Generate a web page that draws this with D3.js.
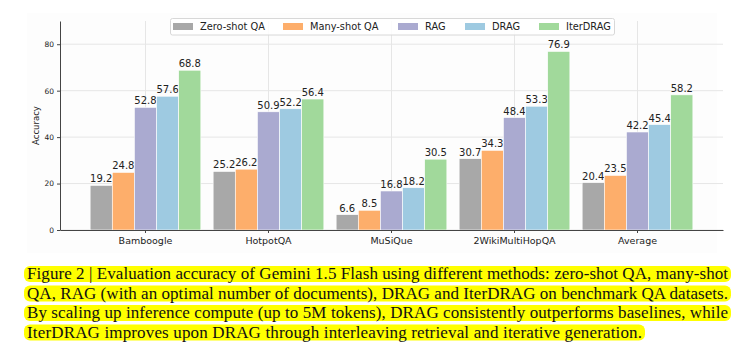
<!DOCTYPE html>
<html><head><meta charset="utf-8">
<script src="https://cdn.jsdelivr.net/npm/d3@7"></script>
<style>html,body{margin:0;padding:0;background:#fff;}svg{display:block;}</style>
</head><body>
<svg id="chart" width="754" height="363"></svg>
<script>
const categories = ["Bamboogle", "HotpotQA", "MuSiQue", "2WikiMultiHopQA", "Average"];
const seriesNames = ["Zero-shot QA", "Many-shot QA", "RAG", "DRAG", "IterDRAG"];
const zeroShot = [19.2, 25.2, 6.6, 30.7, 20.4];
const manyShot = [24.8, 26.2, 8.5, 34.3, 23.5];
const rag = [52.8, 50.9, 16.8, 48.4, 42.2];
const drag = [57.6, 52.2, 18.2, 53.3, 45.4];
const iterDrag = [68.8, 56.4, 30.5, 76.9, 58.2];
const yTicks = [0, 20, 40, 60, 80];
const colors = ["#a8a8a8", "#fdae6b", "#aaaad0", "#9ecae1", "#a1d99b"];
const captionLines = [
  "Figure 2 | Evaluation accuracy of Gemini 1.5 Flash using different methods: zero-shot QA, many-shot",
  "QA, RAG (with an optimal number of documents), DRAG and IterDRAG on benchmark QA datasets.",
  "By scaling up inference compute (up to 5M tokens), DRAG consistently outperforms baselines, while",
  "IterDRAG improves upon DRAG through interleaving retrieval and iterative generation."
];

const seriesValues = [zeroShot, manyShot, rag, drag, iterDrag];
const svg = d3.select("#chart");
const L = 60, R = 723, T = 21, B = 230;

svg.append("rect").attr("x", 27).attr("y", 13).attr("width", 690).attr("height", 240).attr("fill", "#fdfdfd");

const x = d3.scaleBand().domain(categories).range([L, R]).paddingInner(0.1).paddingOuter(0.245);
const xs = d3.scaleBand().domain(seriesNames).range([0, x.bandwidth()]);
const y = d3.scaleLinear().domain([0, 90]).range([B, T]);

const g = svg.append("g");
g.selectAll(".hg").data(yTicks).join("line")
  .attr("x1", L).attr("x2", R).attr("y1", d => y(d)).attr("y2", d => y(d))
  .attr("stroke", "#e6e6e6").attr("stroke-width", 1);
g.selectAll(".vg").data(categories).join("line")
  .attr("x1", d => x(d) + x.bandwidth() / 2).attr("x2", d => x(d) + x.bandwidth() / 2)
  .attr("y1", T).attr("y2", B).attr("stroke", "#e6e6e6").attr("stroke-width", 1);

seriesNames.forEach((s, si) => {
  const vals = seriesValues[si];
  const gs = svg.append("g");
  gs.selectAll("rect").data(categories).join("rect")
    .attr("x", (c) => x(c) + xs(s))
    .attr("y", (c, i) => y(vals[i]))
    .attr("width", xs.bandwidth())
    .attr("height", (c, i) => y(0) - y(vals[i]))
    .attr("fill", colors[si])
    .attr("stroke", "#ffffff").attr("stroke-width", 0.6);
  gs.selectAll("text").data(categories).join("text")
    .attr("x", (c) => x(c) + xs(s) + xs.bandwidth() / 2)
    .attr("y", (c, i) => y(vals[i]) - 3)
    .attr("text-anchor", "middle")
    .attr("font-family", "DejaVu Sans").attr("font-size", 10).attr("fill", "#222")
    .text((c, i) => vals[i].toFixed(1));
});

const xAxis = svg.append("g").attr("transform", `translate(0,${B})`)
  .call(d3.axisBottom(x).tickSize(3).tickSizeOuter(0));
xAxis.select(".domain").attr("stroke", "#444").attr("stroke-width", 1);
xAxis.selectAll(".tick line").attr("stroke", "#444");
xAxis.selectAll("text").attr("font-family", "DejaVu Sans").attr("font-size", 9.5).attr("fill", "#222").attr("dy", "0.85em");

const yAxis = svg.append("g").attr("transform", `translate(${L},0)`)
  .call(d3.axisLeft(y).tickValues(yTicks).tickSize(3).tickSizeOuter(0));
yAxis.select(".domain").attr("stroke", "#444").attr("stroke-width", 1);
yAxis.selectAll(".tick line").attr("stroke", "#444");
yAxis.selectAll("text").attr("font-family", "DejaVu Sans").attr("font-size", 7.5).attr("fill", "#222");

svg.append("text").attr("transform", `translate(39,${(T + B) / 2}) rotate(-90)`)
  .attr("text-anchor", "middle").attr("font-family", "DejaVu Sans").attr("font-size", 8.5).attr("fill", "#222")
  .text("Accuracy");

const leg = svg.append("g");
leg.append("rect").attr("x", 170.5).attr("y", 18.5).attr("width", 444).attr("height", 16.5)
  .attr("fill", "#ffffff").attr("fill-opacity", 0.85).attr("stroke", "#d8d8d8").attr("rx", 2);
const legX = [173, 283, 398, 465, 539];
seriesNames.forEach((s, i) => {
  leg.append("rect").attr("x", legX[i]).attr("y", 23).attr("width", 20).attr("height", 7).attr("fill", colors[i]);
  leg.append("text").attr("x", legX[i] + 27).attr("y", 30).attr("font-family", "DejaVu Sans")
    .attr("font-size", 9.8).attr("fill", "#222").text(s);
});

const cap = svg.append("g");
const capY = [274, 293.5, 313, 332.5];
const capW = [701, 701, 701, 615];
captionLines.forEach((line, i) => {
  const t = cap.append("text").attr("x", 27).attr("y", capY[i] + 5)
    .attr("font-family", "Liberation Serif").attr("font-size", 17).attr("fill", "#111").text(line)
    .attr("textLength", capW[i]).attr("lengthAdjust", "spacing");
  cap.insert("rect", "text").attr("x", 24).attr("y", capY[i] - 8).attr("width", capW[i] + 6).attr("height", 16)
    .attr("rx", 6).attr("fill", "#ffff00");
});
</script>
</body></html>
